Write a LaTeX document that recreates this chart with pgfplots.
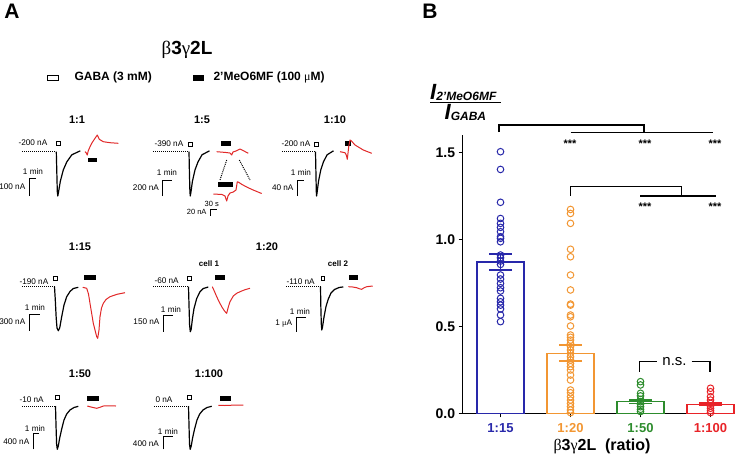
\documentclass[border=0pt]{standalone}
\usepackage{pgfplots}
\pgfplotsset{compat=1.18}
\usepackage{fontspec}
\setmainfont{Liberation Sans}
\newfontfamily\grk{Liberation Serif}
\newcommand\fs[1]{\fontsize{#1}{#1}\selectfont}
\definecolor{cblue}{RGB}{40,40,170}
\definecolor{corange}{RGB}{242,150,50}
\definecolor{cgreen}{RGB}{45,140,45}
\definecolor{cred}{RGB}{232,35,40}
\definecolor{trred}{RGB}{225,40,40}
\begin{document}
\begin{tikzpicture}[x=1pt,y=1pt,
  tr/.style={black, line width=1.2pt, line join=round, mark=none},
  rd/.style={trred, line width=1pt, line join=round, mark=none},
  ttl/.style={font=\fs{11}\bfseries},
  lb/.style={font=\fs{8.2}},
  st/.style={font=\fs{11}\bfseries}]
% ---------- panel A (pixel frame, y downwards) ----------
\begin{axis}[at={(0,0)}, anchor=south west, scale only axis,
  width=746pt, height=464pt, xmin=0, xmax=746, ymin=0, ymax=464,
  y dir=reverse, axis lines=none, xtick=\empty, ytick=\empty, clip=false]

\node[font=\fs{21}\bfseries] at (12,11) {A};
\node[font=\fs{19}\bfseries] at (187,50) {{\grk\mdseries β}3{\grk\mdseries γ}2L};
\draw[line width=0.9pt] (47,75) rectangle (58,80.5);
\fill (193,75) rectangle (204,81);
\node[font=\fs{12}\bfseries, anchor=west] at (71,77.5) {GABA (3 mM)};
\node[font=\fs{12}\bfseries, anchor=west] at (210,77.5) {2'MeO6MF (100 {\grk\mdseries μ}M)};

\node[ttl] at (77,120) {1:1};
\node[ttl] at (202,120) {1:5};
\node[ttl] at (335,120) {1:10};
\node[ttl] at (80,247) {1:15};
\node[ttl] at (267,247) {1:20};
\node[ttl] at (80,373.3) {1:50};
\node[ttl] at (209,373.3) {1:100};
\node[font=\fs{8}\bfseries] at (209,264) {cell 1};
\node[font=\fs{8}\bfseries] at (338,264) {cell 2};

% row 1
\node[lb, anchor=west] at (15,143) {-200 nA};
\node[lb, anchor=west] at (151,144) {-390 nA};
\node[lb, anchor=west] at (278,144) {-200 nA};
\draw[line width=0.9pt] (56,141) rectangle (60,145);
\draw[line width=0.9pt] (188.3,142) rectangle (192.3,146);
\draw[line width=0.9pt] (314,142) rectangle (318,146);
\fill (87.7,157.7) rectangle (97.3,162.3);
\fill (220.7,141) rectangle (230.7,145.5);
\fill (345,141) rectangle (350.7,145.5);
\draw[densely dotted, line width=1pt] (22,151.7) -- (56,151.7);
\draw[densely dotted, line width=1pt] (153,151.7) -- (188.5,151.7);
\draw[densely dotted, line width=1pt] (282,151.7) -- (315,151.7);

\addplot[tr] coordinates {(56.3,151.7)(56.8,171.6)(57.3,191.6)(57.8,196)(58.6,191.6)(60.3,181.4)(63.3,169.9)(66.8,161.9)(71.8,154.8)(80.3,150.8)};
\addplot[rd] coordinates {(85,151.7)(86.3,153)(87.3,155)(88.2,151)(89.3,148.3)(91.7,143.3)(95,138.3)(97.3,135)(99.3,139.3)(103.3,141.7)(110,142.7)(118.3,143.3)};
\addplot[tr] coordinates {(189,151.7)(189.4,171.6)(189.9,191.6)(190.3,196)(191,191.6)(192.4,181.4)(195,169.9)(198,161.9)(202,154.8)(209.5,150.8)};
\addplot[rd] coordinates {(216.7,151.7)(226,152.5)(230,153)(231.7,155)(233,152)(236,151)(240,149)(243,150.5)(248.3,153.3)};
\addplot[tr] coordinates {(315.5,151.7)(315.9,171.6)(316.3,191.6)(316.6,196)(317.2,191.6)(318.5,181.4)(320.8,169.9)(323.4,161.9)(327.1,154.8)(333.5,150.8)};
\addplot[rd] coordinates {(340,151.7)(345,152.7)(346.3,155)(347.3,159.3)(348.7,146.7)(350,140)(351.5,141)(355,145)(363.3,150)(371.7,153.3)};

% 1:5 inset
\draw[densely dotted, line width=1pt] (226.7,160) -- (220,180);
\draw[densely dotted, line width=1pt] (239.3,160) -- (250,180);
\fill (218.3,181.7) rectangle (232.7,186.7);
\addplot[rd] coordinates {(213.3,194)(222,194.5)(225,196)(226.7,201)(228,196)(230,193)(233.3,192)(236,190)(237.3,181.7)(239,182.5)(242,184.5)(246.7,187)(252,189.5)(258,192)(261.7,193.5)};
\node[font=\fs{7.5}] at (211.7,204) {30 s};
\node[font=\fs{7.5}, anchor=east] at (210,212) {20 nA};
\draw[line width=0.8pt] (210.7,216) -- (210.7,209.3) -- (216.7,209.3);

% row 1 scale bars
\node[lb] at (33,171.7) {1 min};
\node[lb, anchor=east] at (28.8,187) {100 nA};
\draw[line width=1pt] (29.3,196) -- (29.3,178) -- (35.5,178);
\node[lb] at (167,172.7) {1 min};
\node[lb, anchor=east] at (162.5,188) {200 nA};
\draw[line width=1pt] (162.7,196) -- (162.7,180) -- (171.7,180);
\node[lb] at (301,172.7) {1 min};
\node[lb, anchor=east] at (297,188) {40 nA};
\draw[line width=1pt] (297.7,196) -- (297.7,180) -- (304,180);

% row 2
\node[lb, anchor=west] at (16,281.7) {-190 nA};
\node[lb, anchor=west] at (151,280.7) {-60 nA};
\node[lb, anchor=west] at (283,281.7) {-110 nA};
\draw[line width=0.9pt] (53,276) rectangle (57,280);
\draw[line width=0.9pt] (187.7,276) rectangle (191.3,280);
\draw[line width=0.9pt] (321,276) rectangle (324.5,280);
\fill (84,275) rectangle (96,280);
\fill (215,275) rectangle (225,280);
\fill (349.3,275) rectangle (358.3,279.5);
\draw[densely dotted, line width=1pt] (22,286.7) -- (54.5,286.7);
\draw[densely dotted, line width=1pt] (153,286.7) -- (188.5,286.7);
\draw[densely dotted, line width=1pt] (286,286.7) -- (320.5,286.7);

\addplot[tr] coordinates {(54.5,286.7)(55.3,300)(56.2,318)(57,328)(58.3,330.7)(59.7,328)(61.7,316.7)(64,305)(66.7,296.7)(70,291.5)(73.3,288.5)(78.3,287.3)};
\addplot[rd] coordinates {(82.7,287.3)(86.7,288.3)(88.5,294)(90,303.3)(93.3,323.3)(96.7,336.7)(97.7,338.3)(99,330)(100,316.7)(101.5,308)(103.3,303.3)(106,299.5)(110,296.7)(117,294.3)(125,292.7)};
\addplot[tr] coordinates {(188.5,286.7)(189,305)(189.6,325)(190.3,331.7)(191.2,329)(192.5,318)(194,308.5)(196.7,298.5)(200,291.7)(203.3,288.5)(208.3,287)};
\addplot[rd] coordinates {(212.3,286.7)(214.5,291.5)(216.7,296.7)(219,301.5)(221.7,306.7)(224.5,311)(226.7,313.3)(228.3,307)(230,301.7)(233.3,296)(236.7,293.3)(240,291.7)(245,289.7)(250,288.3)};
\addplot[tr] coordinates {(320.5,286.7)(320.8,305)(321.3,324)(321.8,330)(322.5,327)(324,317)(326,306.5)(328.3,299)(331,293)(334.5,289.5)(339,287.5)(343.3,286.9)};
\addplot[rd] coordinates {(348.3,286.7)(352,286.9)(356.7,287.7)(359.5,288.8)(361.7,289.3)(364,287.8)(366.7,286.7)(372.7,286)};

\node[lb] at (35,307.3) {1 min};
\node[lb, anchor=east] at (28.8,321.7) {300 nA};
\draw[line width=1pt] (29.3,330.7) -- (29.3,314) -- (40,314);
\node[lb] at (171,310) {1 min};
\node[lb, anchor=east] at (163,321.7) {150 nA};
\draw[line width=1pt] (163.3,331.7) -- (163.3,315.7) -- (172.7,315.7);
\node[lb] at (300,311.7) {1 min};
\node[lb, anchor=east] at (295.5,324) {1 {\grk μ}A};
\draw[line width=1pt] (296.7,331.7) -- (296.7,317.7) -- (306,317.7);

% row 3
\node[lb, anchor=west] at (16,400) {-10 nA};
\node[lb, anchor=west] at (152,400) {0 nA};
\draw[line width=0.9pt] (55,395) rectangle (59,399);
\draw[line width=0.9pt] (187.7,395) rectangle (191.7,399);
\fill (87.3,395.7) rectangle (99.3,400.7);
\fill (220,395.7) rectangle (230.7,400.7);
\draw[densely dotted, line width=1pt] (22,406) -- (55.5,406);
\draw[densely dotted, line width=1pt] (154,406) -- (188.5,406);

\addplot[tr] coordinates {(55.5,406)(56,425)(56.6,444)(57.3,449.3)(58.3,446)(59.7,438)(61.7,429)(64,420)(66.7,414)(70,410)(74,407.5)(78.3,406.3)};
\addplot[rd] coordinates {(87.3,406)(91,407)(96.7,408.3)(100,407.3)(103.3,406)(110,405.8)(116,406)};
\addplot[tr] coordinates {(188.5,406)(189,425)(189.5,444)(190.2,449.3)(191.2,446)(192.6,438)(194.6,429)(197,420)(199.7,414)(203,410)(207,407.5)(211.7,406.3)};
\addplot[rd] coordinates {(218.3,405.3)(225,405.5)(232,405.2)(243.3,405)};

\node[lb] at (35,428.3) {1 min};
\node[lb, anchor=east] at (32.8,441.7) {400 nA};
\draw[line width=1pt] (33.3,449.3) -- (33.3,433.3) -- (39.3,433.3);
\node[lb] at (168,431.7) {1 min};
\node[lb, anchor=east] at (162.5,443.3) {400 nA};
\draw[line width=1pt] (163.3,449.3) -- (163.3,436.7) -- (173.3,436.7);

% ---------- panel B annotations ----------
\node[font=\fs{21}\bfseries] at (430,11) {B};
\node[anchor=base west, inner sep=0pt] at (430,99) {\bfseries\itshape{\fs{22}I}{\fs{12}\raisebox{-1pt}{2'MeO6MF}}};
\draw[line width=1pt] (430,102.7) -- (501,102.7);
\node[anchor=base west, inner sep=0pt] at (444.5,119.5) {\bfseries\itshape{\fs{22}I}{\fs{12}\raisebox{-1pt}{GABA}}};

\draw[line width=1.4pt] (499,132) -- (499,125) -- (644,125) -- (644,132.7);
\draw[line width=1.4pt] (570.7,132.7) -- (713.3,132.7);
\draw[line width=1.4pt] (570.7,195.5) -- (570.7,186.7) -- (681.7,186.7) -- (681.7,196);
\draw[line width=1.4pt] (640,196) -- (716,196);
\node[st] at (570,143.5) {***};
\node[st] at (645,143.5) {***};
\node[st] at (715,143.5) {***};
\node[st] at (645,207) {***};
\node[st] at (715,207) {***};
\draw[line width=1.3pt] (639.3,371.7) -- (639.3,361.7) -- (657.3,361.7);
\draw[line width=1.3pt] (691.7,361.7) -- (710,361.7) -- (710,371.7);
\node[font=\fs{15}] at (674.5,362) {n.s.};
\node[font=\fs{16}\bfseries] at (602,446.7) {{\grk\mdseries β}3{\grk\mdseries γ}2L\ \ (ratio)};
\end{axis}

% ---------- panel B ----------
\begin{axis}[at={(462.7pt,50.7pt)}, anchor=south west, scale only axis,
  width=272.3pt, height=278.3pt, xmin=-0.54, xmax=3.35, ymin=0, ymax=1.6,
  axis x line*=bottom, axis y line*=left,
  axis line style={line width=1.4pt, -},
  tick align=outside, major tick length=4pt,
  tick style={line width=1.2pt, black},
  xtick={0,1,2,3},
  xticklabels={\textcolor{cblue}{1:15},\textcolor{corange}{1:20},\textcolor{cgreen}{1:50},\textcolor{cred}{1:100}},
  xticklabel style={font=\fs{13}\bfseries, yshift=-3pt},
  ytick={0,0.5,1,1.5}, yticklabels={0.0,0.5,1.0,1.5},
  yticklabel style={font=\fs{14}\bfseries},
  clip=false,
  bar/.style={ybar, bar width=47pt, bar shift=0pt, line width=1.4pt, fill=none},
  pts/.style={only marks, mark=o, mark size=3.3pt, mark options={line width=1pt}},
  eb/.style={draw=none, mark=none, error bars/.cd, y dir=both, y explicit,
    error bar style={draw=#1, line width=1.6pt},
    error mark options={rotate=90, mark size=11.5pt, line width=1.6pt, draw=#1}}]

\addplot[bar, draw=cblue] coordinates {(0,0.87)};
\addplot[bar, draw=corange] coordinates {(1,0.345)};
\addplot[bar, draw=cgreen] coordinates {(2,0.067)};
\addplot[bar, draw=cred] coordinates {(3,0.052)};

\addplot[pts, cblue] coordinates {
(0,1.504)(0,1.402)(0,1.213)(0,1.12)(0,1.092)(0,1.069)(0,1.044)(0,1.015)
(0,1.006)(0,0.986)(0,0.91)(0,0.894)(0,0.875)(0,0.856)(0,0.795)(0,0.772)
(0,0.747)(0,0.722)(0,0.703)(0,0.661)(0,0.641)(0,0.622)(0,0.6)(0,0.565)(0,0.527)};
\addplot[pts, corange] coordinates {
(1,1.172)(1,1.149)(1,1.092)(1,0.943)(1,0.9)(1,0.795)(1,0.709)(1,0.628)
(1,0.622)(1,0.565)(1,0.555)(1,0.502)(1,0.45)(1,0.437)(1,0.421)(1,0.402)
(1,0.383)(1,0.364)(1,0.345)(1,0.325)(1,0.306)(1,0.287)(1,0.268)(1,0.249)
(1,0.22)(1,0.191)(1,0.134)(1,0.118)(1,0.095)(1,0.076)(1,0.057)(1,0.038)
(1,0.019)(1,0.004)};
\addplot[pts, cgreen] coordinates {
(2,0.182)(2,0.163)(2,0.115)(2,0.1)(2,0.08)(2,0.067)(2,0.053)(2,0.038)(2,0.023)(2,0.01)};
\addplot[pts, cred] coordinates {
(3,0.144)(3,0.124)(3,0.095)(3,0.076)(3,0.057)(3,0.042)(3,0.029)(3,0.015)(3,0.004)};

\addplot[eb=cblue] coordinates {(0,0.87) +- (0,0.045)};
\addplot[eb=corange] coordinates {(1,0.345) +- (0,0.046)};
\addplot[eb=cgreen] coordinates {(2,0.067) +- (0,0.011)};
\addplot[eb=cred] coordinates {(3,0.052) +- (0,0.008)};
\end{axis}
\pgfresetboundingbox
\path[use as bounding box] (0,0) rectangle (746,464);
\end{tikzpicture}
\end{document}
